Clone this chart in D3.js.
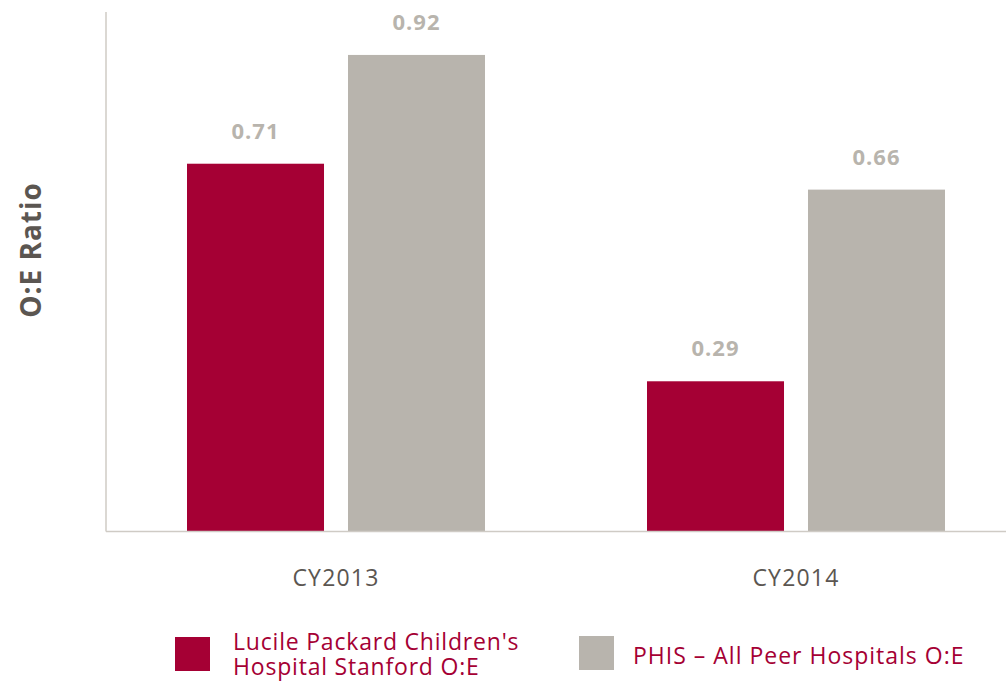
<!DOCTYPE html>
<html><head><meta charset="utf-8">
<script src="https://cdn.jsdelivr.net/npm/d3@7"></script>
<style>body{margin:0;background:#fff}svg{display:block}</style>
</head><body>
<svg id="c" width="1007" height="682"></svg>
<script>
const categories = ["CY2013", "CY2014"];
const seriesNames = ["Lucile Packard Children's Hospital Stanford O:E", "PHIS – All Peer Hospitals O:E"];
const lpchValues = [0.71, 0.29];
const phisValues = [0.92, 0.66];
const valueLabels = [["0.71", "0.92"], ["0.29", "0.66"]];
const colors = ["#A50034", "#B8B4AD"];

const svg = d3.select("#c");
const font = "'Open Sans', sans-serif";
const x0 = 106, y0 = 531.5;
const x = d3.scaleBand().domain(categories).range([x0, 1026]).paddingInner(0).paddingOuter(0);
const xi = d3.scaleBand().domain([0, 1]).range([81, 379]).paddingInner(0.149).paddingOuter(0);
const y = d3.scaleLinear().domain([0, 1]).range([y0, y0 - 518]);

const data = categories.map((c, i) => ({c, vals: [lpchValues[i], phisValues[i]], labels: valueLabels[i]}));

const g = svg.append("g");
data.forEach(d => {
  d.vals.forEach((v, j) => {
    const bx = x(d.c) + xi(j);
    g.append("rect").attr("x", bx).attr("y", y(v)).attr("width", xi.bandwidth()).attr("height", y0 - y(v)).attr("fill", colors[j]);
    g.append("text").attr("x", bx + xi.bandwidth()/2).attr("y", y(v) - 25)
      .attr("text-anchor", "middle").attr("font-family", font).attr("font-weight", "bold")
      .attr("font-size", 22).attr("letter-spacing", 1).attr("fill", "#B8B4AD").text(d.labels[j]);
  });
});

// axes
svg.append("line").attr("x1", x0).attr("x2", x0).attr("y1", 12).attr("y2", y0).attr("stroke", "#CFCBC5").attr("stroke-width", 1.5);
svg.append("line").attr("x1", x0).attr("x2", 1006).attr("y1", y0).attr("y2", y0).attr("stroke", "#CFCBC5").attr("stroke-width", 1.5);

const xAxis = svg.append("g").attr("transform", `translate(0,${y0})`).call(d3.axisBottom(x).tickSize(0).tickPadding(0));
xAxis.select(".domain").remove();
xAxis.selectAll("text").attr("dy", null).attr("y", 54).attr("font-family", font).attr("font-size", 23)
  .attr("letter-spacing", 1.2).attr("fill", "#5B5651");

svg.append("text").attr("transform", "translate(41,250) rotate(-90)").attr("text-anchor", "middle")
  .attr("font-family", font).attr("font-weight", "bold").attr("font-size", 28).attr("letter-spacing", 1)
  .attr("fill", "#5B5651").text("O:E Ratio");

// legend
const lg = svg.append("g");
lg.append("rect").attr("x", 175).attr("y", 637).attr("width", 35).attr("height", 34).attr("fill", colors[0]);
const t1 = lg.append("text").attr("font-family", font).attr("font-size", 23).attr("letter-spacing", 0.8).attr("fill", colors[0]);
t1.append("tspan").attr("x", 233).attr("y", 650).text("Lucile Packard Children's");
t1.append("tspan").attr("x", 233).attr("y", 675).text("Hospital Stanford O:E");
lg.append("rect").attr("x", 579).attr("y", 636).attr("width", 35).attr("height", 34).attr("fill", colors[1]);
lg.append("text").attr("x", 633).attr("y", 664).attr("font-family", font).attr("font-size", 23).attr("letter-spacing", 1)
  .attr("fill", colors[0]).text(seriesNames[1]);
</script>
</body></html>
